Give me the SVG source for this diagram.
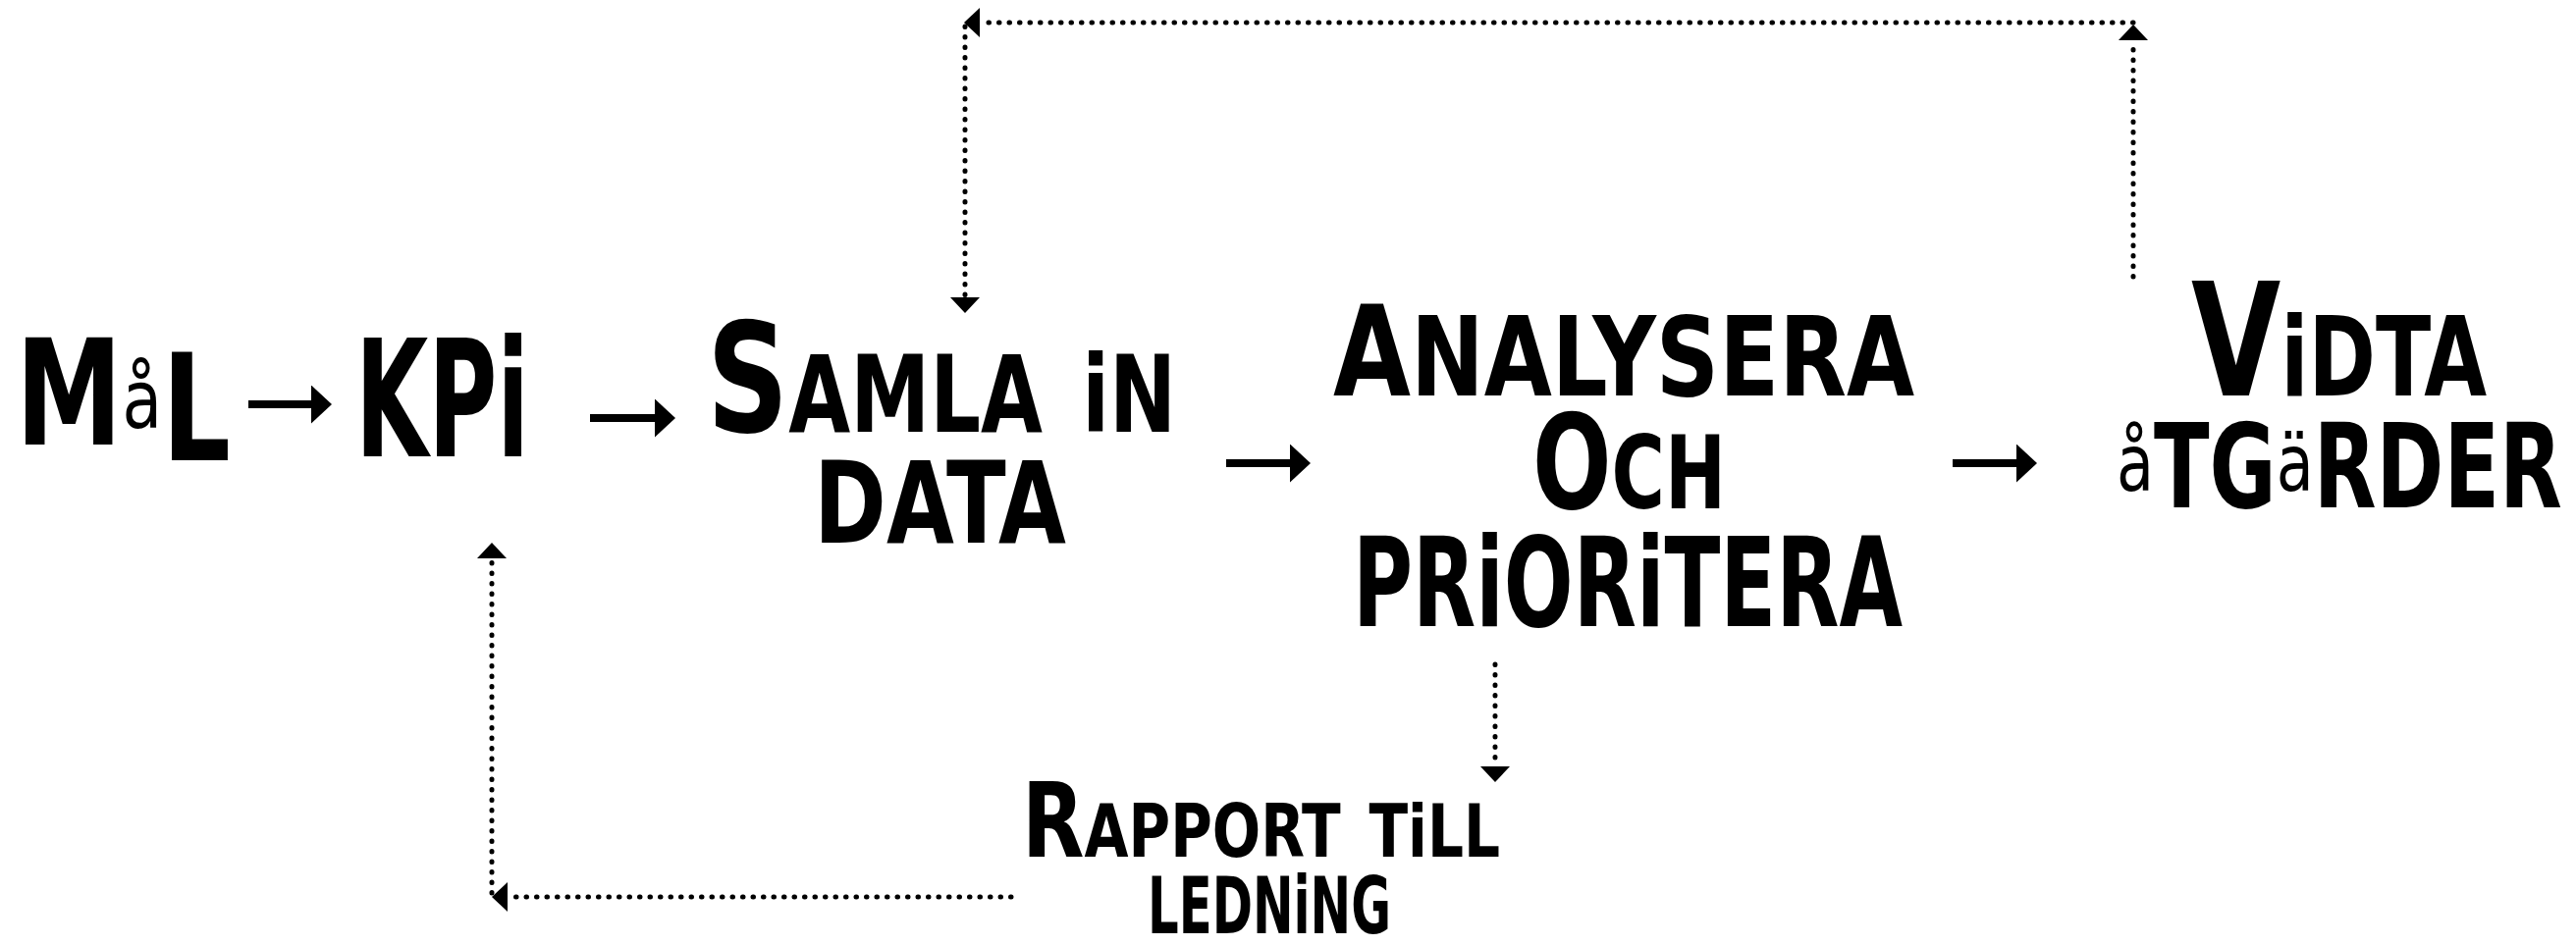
<svg xmlns="http://www.w3.org/2000/svg" width="2624" height="963" viewBox="0 0 2624 963">
<style>
  .t { font-family: "Liberation Sans Narrow", "DejaVu Sans Condensed", "Liberation Sans", sans-serif; font-weight: bold; font-variant: small-caps; fill: #000; }
  .i { font-variant: normal; font-size: 0.7em; }
  .lc { font-variant: normal; font-weight: normal; font-family: "DejaVu Sans", "Liberation Sans", sans-serif; }
  .solid { fill: none; stroke: #000; stroke-width: 8; }
  .dot { fill: none; stroke: #000; stroke-width: 5; stroke-linecap: round; stroke-dasharray: 0.5 10; }
</style>
<defs>
  <marker id="head" viewBox="0 0 21 39" refX="0" refY="19.5" markerWidth="21" markerHeight="39" markerUnits="userSpaceOnUse" orient="auto">
    <path d="M0,0 L21,19.5 L0,39 Z" fill="#000"/>
  </marker>
  <marker id="dhead" viewBox="0 0 16 30" refX="0" refY="15" markerWidth="16" markerHeight="30" markerUnits="userSpaceOnUse" orient="auto">
    <path d="M0,0 L16,15 L0,30 Z" fill="#000"/>
  </marker>
</defs>
<rect width="2624" height="963" fill="#fff"/>

<g id="connectors">
  <path class="solid" d="M253,412 H317" marker-end="url(#head)"/>
  <path class="solid" d="M601,426 H667" marker-end="url(#head)"/>
  <path class="solid" d="M1249,472 H1314" marker-end="url(#head)"/>
  <path class="solid" d="M1989,472 H2054" marker-end="url(#head)"/>
  <path class="dot" d="M2173,282 V41" marker-end="url(#dhead)"/>
  <path class="dot" d="M2173,23 H998" marker-end="url(#dhead)"/>
  <path class="dot" d="M983,27 V303" marker-end="url(#dhead)"/>
  <path class="dot" d="M1523,677 V781" marker-end="url(#dhead)"/>
  <path class="dot" d="M1030,914 H517" marker-end="url(#dhead)"/>
  <path class="dot" d="M501,910 V569" marker-end="url(#dhead)"/>
</g>

<g id="node-mal">
  <text class="t" x="16" y="453" font-size="150" textLength="219" lengthAdjust="spacingAndGlyphs">M<tspan class="lc" font-size="82" dy="-17">å</tspan><tspan font-size="215" dy="33">l</tspan></text>
</g>
<g id="node-kpi">
  <text class="t" x="362" y="465" font-size="165" textLength="177" lengthAdjust="spacingAndGlyphs">KP<tspan style="font-variant:normal">i</tspan></text>
</g>
<g id="node-samla">
  <text class="t" x="720" y="440" font-size="155" textLength="478" lengthAdjust="spacingAndGlyphs">Samla <tspan class="i">i</tspan>n</text>
  <text class="t" x="829" y="553" font-size="166" textLength="257" lengthAdjust="spacingAndGlyphs">data</text>
</g>
<g id="node-analysera">
  <text class="t" x="1358" y="403" font-size="160" textLength="592" lengthAdjust="spacingAndGlyphs"><tspan font-size="128">A</tspan>nalysera</text>
  <text class="t" x="1561" y="518" font-size="148" textLength="197" lengthAdjust="spacingAndGlyphs"><tspan font-size="190">o</tspan>ch</text>
  <text class="t" x="1378" y="638" font-size="180" textLength="560" lengthAdjust="spacingAndGlyphs">pr<tspan class="i">i</tspan>or<tspan class="i">i</tspan>tera</text>
</g>
<g id="node-vidta">
  <text class="t" x="2232" y="403" font-size="160" textLength="301" lengthAdjust="spacingAndGlyphs">V<tspan class="i">i</tspan>dta</text>
  <text class="t" x="2156" y="517" font-size="170" textLength="454" lengthAdjust="spacingAndGlyphs"><tspan class="lc" font-size="80" dy="-17">å</tspan><tspan dy="17">tg</tspan><tspan class="lc" font-size="80" dy="-17">ä</tspan><tspan dy="17">rder</tspan></text>
</g>
<g id="node-rapport">
  <text class="t" x="1041" y="873" font-size="105" textLength="487" lengthAdjust="spacingAndGlyphs">Rapport t<tspan class="i">i</tspan>ll</text>
  <text class="t" x="1169" y="951" font-size="116" textLength="248" lengthAdjust="spacingAndGlyphs">ledn<tspan class="i">i</tspan>ng</text>
</g>
</svg>
